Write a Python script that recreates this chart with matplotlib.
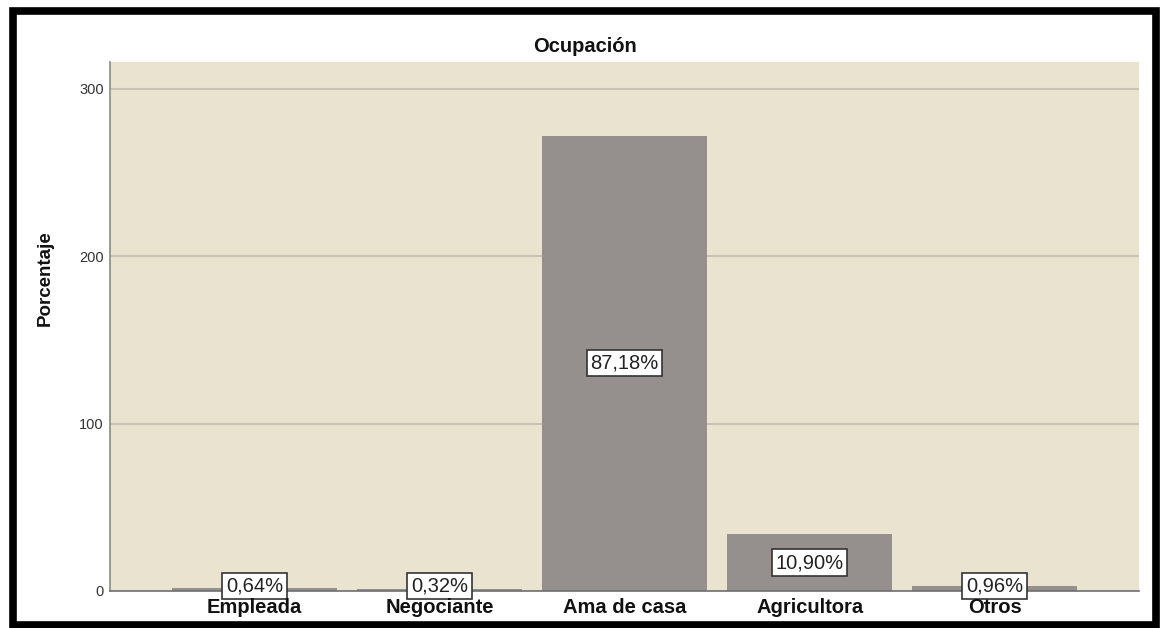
"""
Ocupación - bar chart of counts with percentage labels
"""
import matplotlib.pyplot as plt
from matplotlib.patches import Rectangle

plt.rcParams['font.family'] = ['Liberation Sans', 'DejaVu Sans']

categories = ['Empleada', 'Negociante', 'Ama de casa', 'Agricultora', 'Otros']
counts = [2, 1, 272, 34, 3]
pct_labels = ['0,64%', '0,32%', '87,18%', '10,90%', '0,96%']
y_ticks = [0, 100, 200, 300]

W, H = 1162, 628
fig = plt.figure(figsize=(W / 100, H / 100), dpi=100)
fig.patch.set_facecolor('white')

# plot area in pixels: left 110, right 1139, top 62, bottom 591
ax = fig.add_axes([110 / W, 1 - 591 / H, (1139 - 110) / W, (591 - 62) / H])
ax.set_facecolor('#EAE3D0')

x = list(range(len(categories)))
bars = ax.bar(x, counts, width=0.895, color='#958F8D', edgecolor='none', zorder=3)

for xi, v, lab in zip(x, counts, pct_labels):
    ypos = max(v / 2, 3.2)
    ax.text(xi, ypos, lab, ha='center', va='center', fontsize=14.5, color='#222222',
            zorder=5, bbox=dict(boxstyle='square,pad=0.18', facecolor='white',
                                edgecolor='#333333', linewidth=1.2))

ax.set_xlim(-0.78, 4.78)
ax.set_ylim(0, 316)
ax.set_yticks(y_ticks)
ax.set_yticklabels([str(t) for t in y_ticks], fontsize=10.5, color='#333333')
ax.set_xticks(x)
ax.set_xticklabels(categories, fontsize=14.5, fontweight='bold', color='#111111')
ax.tick_params(axis='x', length=0, pad=5)
ax.tick_params(axis='y', length=0, pad=4.5)
ax.xaxis.set_zorder(6)

for t in y_ticks[1:]:
    ax.axhline(t, color='#C8C3B6', linewidth=1.5, zorder=1)

for s in ['top', 'right']:
    ax.spines[s].set_visible(False)
ax.spines['left'].set_color('#8A8A8A')
ax.spines['left'].set_linewidth(1.2)
ax.spines['bottom'].set_color('#6E6E6E')
ax.spines['bottom'].set_linewidth(1.2)
ax.spines['bottom'].set_zorder(4)

ax.set_ylabel('Porcentaje', fontsize=13.5, fontweight='bold', color='#111111')
ax.yaxis.set_label_coords((54 - 110) / (1139 - 110), (591 - 278) / (591 - 62))

# title is centred on the whole picture, not on the plot area
fig.text(585 / W, 1 - 52 / H, 'Ocupación', ha='center', va='baseline',
         fontsize=14.5, fontweight='bold', color='#111111')

# black frame around the whole picture
frame = Rectangle((13 / W, 1 - 624.5 / H), (1156 - 13) / W, (624.5 - 11) / H,
                  transform=fig.transFigure, fill=False, edgecolor='black',
                  linewidth=5.5, zorder=10)
fig.patches.append(frame)

plt.savefig('out.png', dpi=100)
